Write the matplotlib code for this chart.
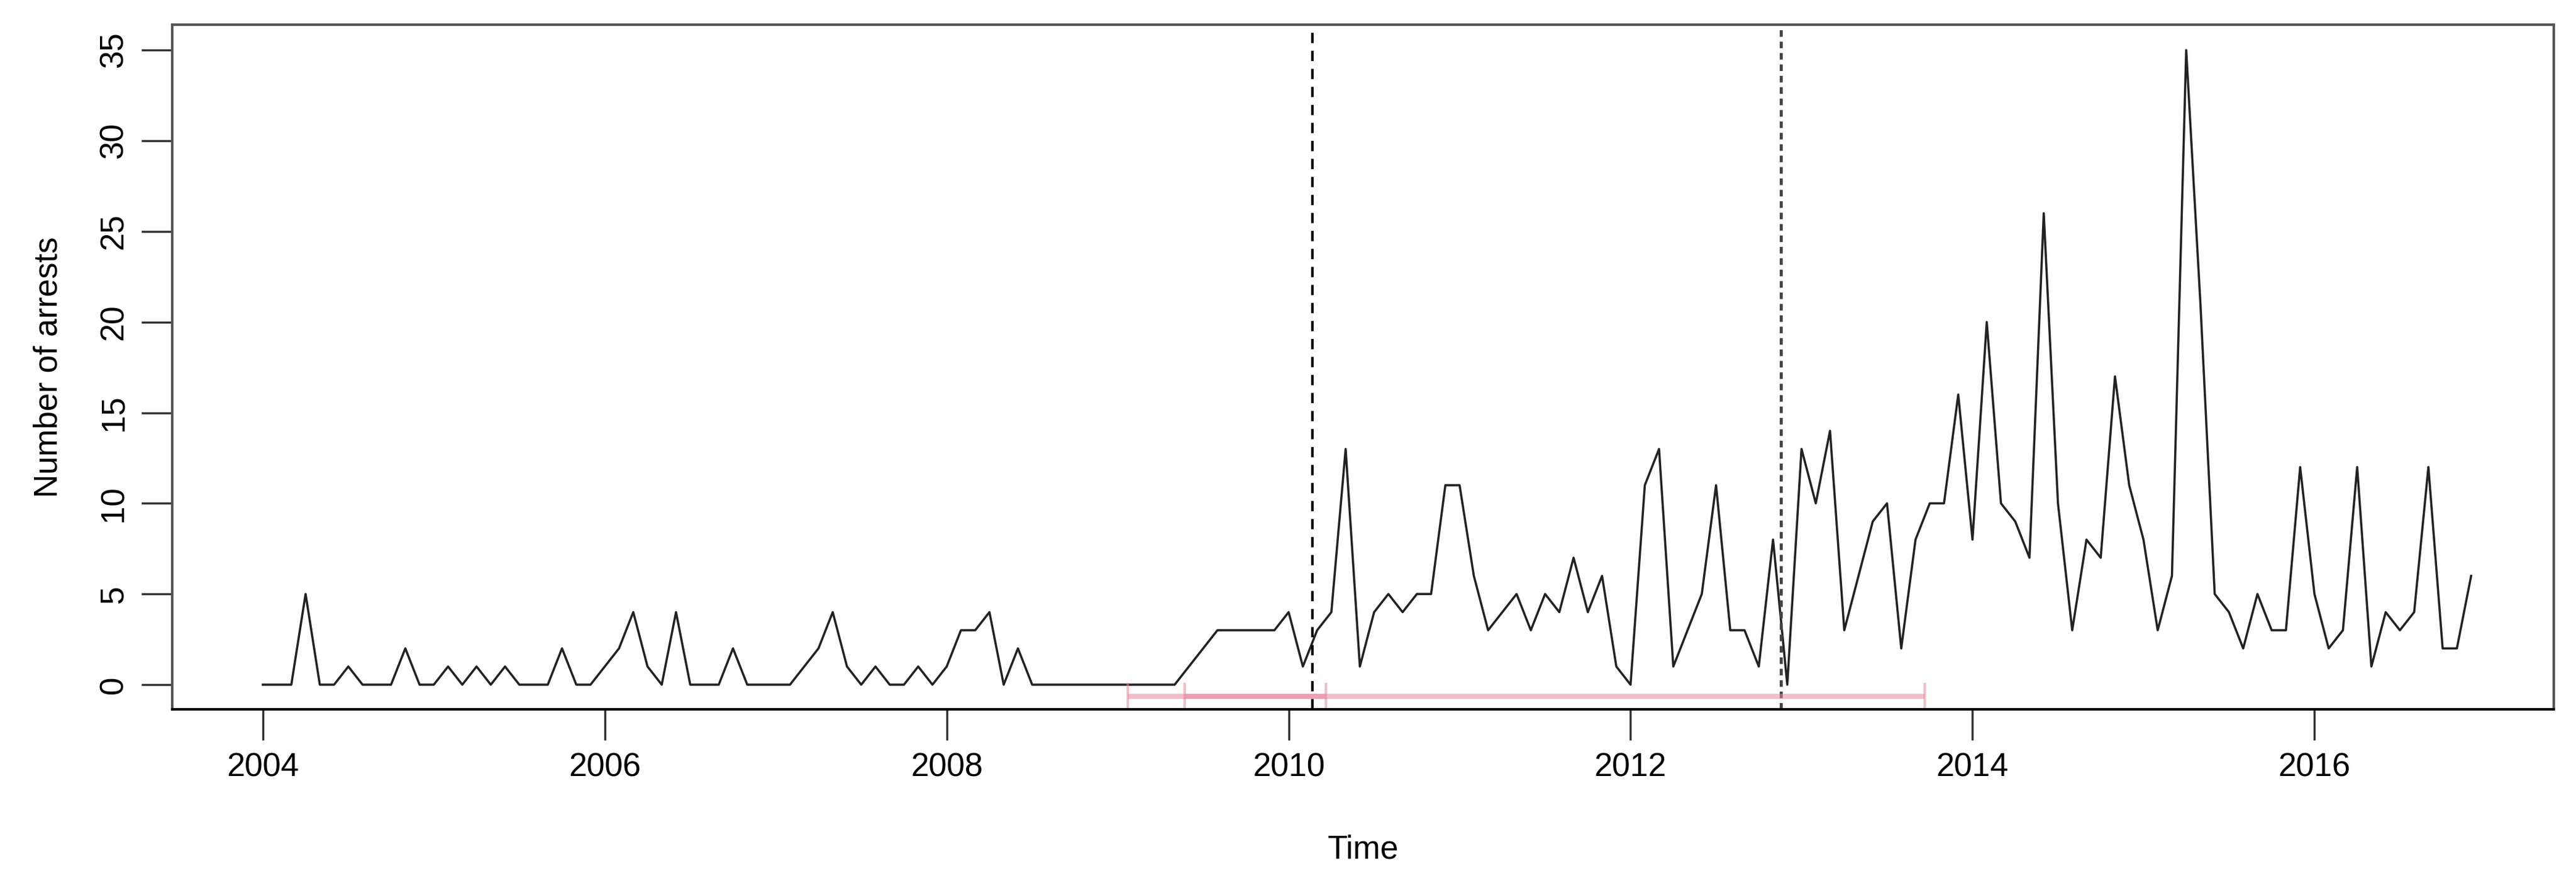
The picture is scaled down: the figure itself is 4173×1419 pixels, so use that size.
import numpy as np
import matplotlib
matplotlib.use("Agg")
import matplotlib.pyplot as plt

plt.rcParams["font.family"] = ["Liberation Sans", "DejaVu Sans"]

# monthly arrests, Jan 2004 .. Dec 2016
arrests = [
    0, 0, 0, 5, 0, 0, 1, 0, 0, 0, 2, 0,        # 2004
    0, 1, 0, 1, 0, 1, 0, 0, 0, 2, 0, 0,        # 2005
    1, 2, 4, 1, 0, 4, 0, 0, 0, 2, 0, 0,        # 2006
    0, 0, 1, 2, 4, 1, 0, 1, 0, 0, 1, 0,        # 2007
    1, 3, 3, 4, 0, 2, 0, 0, 0, 0, 0, 0,        # 2008
    0, 0, 0, 0, 0, 1, 2, 3, 3, 3, 3, 3,        # 2009
    4, 1, 3, 4, 13, 1, 4, 5, 4, 5, 5, 11,      # 2010
    11, 6, 3, 4, 5, 3, 5, 4, 7, 4, 6, 1,       # 2011
    0, 11, 13, 1, 3, 5, 11, 3, 3, 1, 8, 0,     # 2012
    13, 10, 14, 3, 6, 9, 10, 2, 8, 10, 10, 16, # 2013
    8, 20, 10, 9, 7, 26, 10, 3, 8, 7, 17, 11,  # 2014
    8, 3, 6, 35, 21, 5, 4, 2, 5, 3, 3, 12,     # 2015
    5, 2, 3, 12, 1, 4, 3, 4, 12, 2, 2, 6,      # 2016
]
start_year = 2004
breakpoints = [2010.14, 2012.88]
ci_lower = [2009.06, 2009.39]
ci_upper = [2010.22, 2013.72]
ci_y = -0.65

t = start_year + np.arange(len(arrests)) / 12.0

fig = plt.figure(figsize=(41.73, 14.19), dpi=100)
ax = fig.add_axes([279 / 4173, 1 - 1149 / 1419, (4137 - 279) / 4173, (1149 - 40) / 1419])

ax.plot(t, arrests, color="#222222", linewidth=2.6)

ax.axvline(breakpoints[0], color="black", linestyle=(0, (4, 3)), linewidth=3)
ax.axvline(breakpoints[1], color="#444444", linestyle=(0, (2.2, 1.6)), linewidth=3.5)

for lo, hi in zip(ci_lower, ci_upper):
    ax.errorbar([(lo + hi) / 2], [ci_y], xerr=[[(hi - lo) / 2], [(hi - lo) / 2]],
                fmt="none", ecolor="#e8899d", alpha=0.55, elinewidth=6,
                capsize=16, capthick=3)

ax.set_xlim(2003.47, 2017.40)
ax.set_ylim(-1.36, 36.4)
ax.set_xticks(range(2004, 2017, 2))
ax.set_yticks(range(0, 36, 5))
ax.tick_params(axis="both", labelsize=38, length=36, width=2.5, pad=14, color="#333333")
for lab in ax.get_yticklabels():
    lab.set_rotation(90)
    lab.set_va("center")

for sp in ax.spines.values():
    sp.set_color("#555555")
    sp.set_linewidth(3)
ax.spines["bottom"].set_color("black")

ax.set_xlabel("Time", fontsize=38, labelpad=60)
ax.set_ylabel("Number of arrests", fontsize=38, labelpad=40)

fig.savefig("out.png", dpi=100, facecolor="white")
